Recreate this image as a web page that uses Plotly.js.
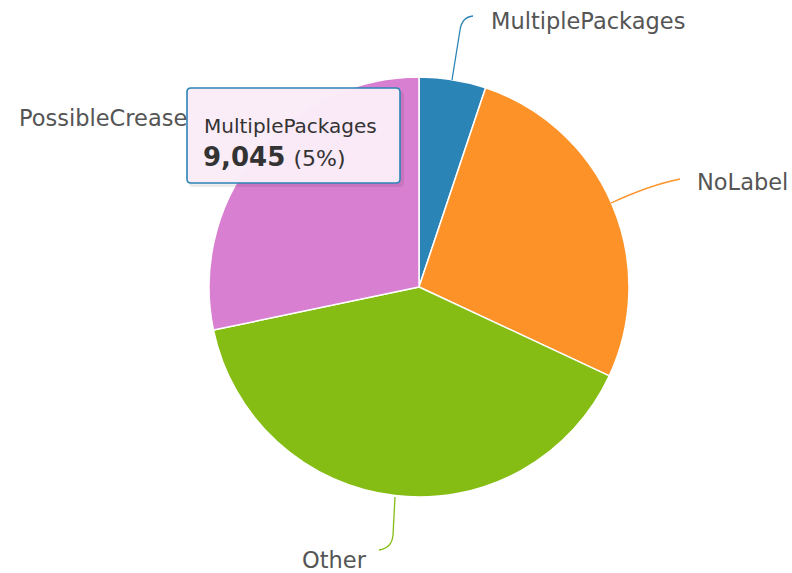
<!DOCTYPE html>
<html><head><meta charset="utf-8">
<script src="https://cdn.plot.ly/plotly-3.0.1.min.js"></script>
<style>body{margin:0;background:#fff}#c{width:792px;height:573px}</style>
</head><body><div id="c"></div>
<script>
const categories = ["MultiplePackages", "NoLabel", "Other", "PossibleCrease"];
const values = [9045, 47200, 70000, 49800];
const colors = ["#2b84b6", "#fd9228", "#85bd14", "#d97fd1"];

const W = 792, H = 573;
const px = x => x / W, py = y => 1 - y / H;
function P(x,y){ return px(x).toFixed(5)+","+py(y).toFixed(5); }

const total = values.reduce((a,b)=>a+b,0);
const pct = Math.round(values[0]/total*100);

const shapes = [
  {type:"path", xref:"paper", yref:"paper", path:"M"+P(452,80)+" L"+P(460,30)+" Q"+P(462,17)+" "+P(473,16), line:{color:colors[0], width:1.3}},
  {type:"path", xref:"paper", yref:"paper", path:"M"+P(611,203)+" Q"+P(650,185)+" "+P(680,179), line:{color:colors[1], width:1.3}},
  {type:"path", xref:"paper", yref:"paper", path:"M"+P(395,497)+" L"+P(393,535)+" Q"+P(392,548)+" "+P(379,550), line:{color:colors[2], width:1.3}},
  {type:"path", xref:"paper", yref:"paper", path:"M"+P(192,91)+" L"+P(400,91)+" Q"+P(404,91)+" "+P(404,95)+" L"+P(404,183)+" Q"+P(404,187)+" "+P(400,187)+" L"+P(192,187)+" Q"+P(189,187)+" "+P(189,183)+" L"+P(189,95)+" Z", fillcolor:"rgba(0,0,0,0.08)", line:{width:0}},
  {type:"path", xref:"paper", yref:"paper", path:"M"+P(191,88)+" L"+P(396,88)+" Q"+P(400,88)+" "+P(400,92)+" L"+P(400,179)+" Q"+P(400,183)+" "+P(396,183)+" L"+P(191,183)+" Q"+P(187,183)+" "+P(187,179)+" L"+P(187,92)+" Q"+P(187,88)+" "+P(191,88)+" Z", fillcolor:"rgba(251,236,248,0.97)", line:{color:"#2b84b6", width:1.6}}
];

const fam = "DejaVu Sans, Verdana, sans-serif";
const lf = {family:fam, size:22.5, color:"#555555"};
const annotations = [
  {xref:"paper", yref:"paper", x:px(489), y:py(21), xanchor:"left", yanchor:"middle", text:categories[0], showarrow:false, font:lf},
  {xref:"paper", yref:"paper", x:px(695), y:py(182), xanchor:"left", yanchor:"middle", text:categories[1], showarrow:false, font:lf},
  {xref:"paper", yref:"paper", x:px(369), y:py(560), xanchor:"right", yanchor:"middle", text:categories[2], showarrow:false, font:lf},
  {xref:"paper", yref:"paper", x:px(189), y:py(118), xanchor:"right", yanchor:"middle", text:categories[3], showarrow:false, font:lf},
  {xref:"paper", yref:"paper", x:px(202), y:py(126), xanchor:"left", yanchor:"middle", text:categories[0], showarrow:false, font:{family:fam, size:20, color:"#333333"}},
  {xref:"paper", yref:"paper", x:px(201), y:py(157), xanchor:"left", yanchor:"middle", text:"<b>"+values[0].toLocaleString("en-US")+"</b> <span style='font-size:22px'>("+pct+"%)</span>", showarrow:false, font:{family:fam, size:26, color:"#333333"}}
];

const cx = 419, cy = 287, r = 210;
const data = [{
  type:"pie", labels:categories, values:values, sort:false, direction:"clockwise", rotation:0,
  marker:{colors:colors, line:{color:"#ffffff", width:1.5}},
  textinfo:"none", hoverinfo:"none", showlegend:false,
  domain:{x:[px(cx-r), px(cx+r)], y:[py(cy+r), py(cy-r)]}
}];
const layout = {width:W, height:H, margin:{l:0,r:0,t:0,b:0}, paper_bgcolor:"#ffffff", shapes:shapes, annotations:annotations, showlegend:false};
Plotly.newPlot("c", data, layout, {displayModeBar:false, staticPlot:true});
</script></body></html>
